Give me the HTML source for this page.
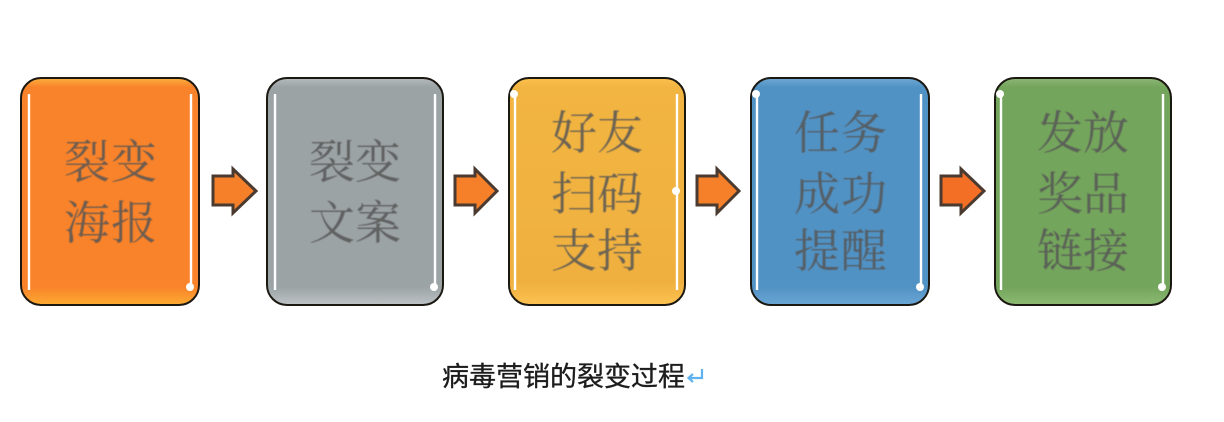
<!DOCTYPE html>
<html lang="zh">
<head>
<meta charset="utf-8">
<style>
html,body{margin:0;padding:0;background:#fff;width:1224px;height:422px;overflow:hidden}
svg{display:block}
.t{font-family:"Liberation Serif","Noto Serif CJK SC",serif;font-size:46px;fill:#555;fill-opacity:.85;text-anchor:middle;filter:url(#soft)}
.c{font-family:"Liberation Sans","Noto Sans CJK SC",sans-serif;font-size:27px;fill:#1c1c1c;stroke:#1c1c1c;stroke-width:.35}
.hl{stroke:#fff;stroke-width:2.4;fill:none}
.box{stroke:#1b1711;stroke-width:2}
.ar{fill:#f58029;stroke:#4a3a30;stroke-width:3;stroke-linejoin:miter}
</style>
</head>
<body>
<svg width="1224" height="422" viewBox="0 0 1224 422" xmlns="http://www.w3.org/2000/svg">
<defs>
<filter id="soft" x="-5%" y="-5%" width="110%" height="110%"><feGaussianBlur stdDeviation="0.5"/></filter>
<linearGradient id="g1" x1="0" y1="0" x2="0" y2="1"><stop offset="0" stop-color="#fbb040"/><stop offset=".04" stop-color="#f9832a"/><stop offset=".92" stop-color="#f9832a"/><stop offset="1" stop-color="#fdab32"/></linearGradient>
<linearGradient id="g2" x1="0" y1="0" x2="0" y2="1"><stop offset="0" stop-color="#b5bbbe"/><stop offset=".04" stop-color="#9ca3a5"/><stop offset=".92" stop-color="#9ca3a5"/><stop offset="1" stop-color="#bcc2c5"/></linearGradient>
<linearGradient id="g3" x1="0" y1="0" x2="0" y2="1"><stop offset="0" stop-color="#fcc04e"/><stop offset=".04" stop-color="#f3b541"/><stop offset=".9" stop-color="#efb03f"/><stop offset="1" stop-color="#fcc251"/></linearGradient>
<linearGradient id="g4" x1="0" y1="0" x2="0" y2="1"><stop offset="0" stop-color="#6fa8d3"/><stop offset=".04" stop-color="#5192c4"/><stop offset=".92" stop-color="#5192c4"/><stop offset="1" stop-color="#6aa6d4"/></linearGradient>
<linearGradient id="g5" x1="0" y1="0" x2="0" y2="1"><stop offset="0" stop-color="#8db676"/><stop offset=".04" stop-color="#74a55c"/><stop offset=".92" stop-color="#74a55c"/><stop offset="1" stop-color="#8cba72"/></linearGradient>
</defs>

<!-- box 1 -->
<rect class="box" x="21" y="78" width="178" height="227" rx="20" fill="url(#g1)"/>
<path class="hl" d="M29 94V290M191 94V286"/>
<circle cx="190" cy="287" r="4" fill="#fff"/>
<text class="t" x="87" y="178">裂</text><text class="t" x="134" y="178">变</text>
<text class="t" x="87" y="239">海</text><text class="t" x="134" y="239">报</text>

<!-- box 2 -->
<rect class="box" x="267" y="78" width="176" height="227" rx="20" fill="url(#g2)"/>
<path class="hl" d="M275 94V290M435 94V286"/>
<circle cx="434" cy="287" r="4" fill="#fff"/>
<text class="t" x="332" y="178">裂</text><text class="t" x="378" y="178">变</text>
<text class="t" x="332" y="239">文</text><text class="t" x="378" y="239">案</text>

<!-- box 3 -->
<rect class="box" x="509" y="78" width="176" height="227" rx="20" fill="url(#g3)"/>
<path class="hl" d="M515 94V290M677 94V290"/>
<circle cx="514" cy="94" r="4" fill="#fff"/><circle cx="676" cy="191" r="4" fill="#fff"/>
<text class="t" x="574" y="149">好</text><text class="t" x="620" y="149">友</text>
<text class="t" x="574" y="210">扫</text><text class="t" x="620" y="210">码</text>
<text class="t" x="574" y="267">支</text><text class="t" x="620" y="267">持</text>

<!-- box 4 -->
<rect class="box" x="751" y="78" width="178" height="227" rx="20" fill="url(#g4)"/>
<path class="hl" d="M757 94V290M921 94V286"/>
<circle cx="756" cy="94" r="4" fill="#fff"/><circle cx="920" cy="287" r="4" fill="#fff"/>
<text class="t" x="817" y="149">任</text><text class="t" x="864" y="149">务</text>
<text class="t" x="817" y="210">成</text><text class="t" x="864" y="210">功</text>
<text class="t" x="817" y="267">提</text><text class="t" x="864" y="267">醒</text>

<!-- box 5 -->
<rect class="box" x="995" y="78" width="176" height="227" rx="20" fill="url(#g5)"/>
<path class="hl" d="M1001 94V290M1163 94V286"/>
<circle cx="1000" cy="94" r="4" fill="#fff"/><circle cx="1162" cy="287" r="4" fill="#fff"/>
<text class="t" x="1060" y="149">发</text><text class="t" x="1106" y="149">放</text>
<text class="t" x="1060" y="210">奖</text><text class="t" x="1106" y="210">品</text>
<text class="t" x="1060" y="267">链</text><text class="t" x="1106" y="267">接</text>

<!-- arrows -->
<path class="ar" d="M213 176H233V169L256 191L233 213V205H213Z"/>
<path class="ar" d="M455 176H475V169L497 191L475 213V205H455Z"/>
<path class="ar" d="M697 176H717V169L739 191L717 213V205H697Z"/>
<path class="ar" style="fill:#f36f26" d="M941 176H961V169L984 191L961 213V205H941Z"/>

<!-- caption -->
<text class="c" x="442" y="386">病毒营销的裂变过程</text>
<path d="M702 369V378H689M693 374L688.500 378L693 382" fill="none" stroke="#5fb2ee" stroke-width="2.200"/>
</svg>
</body>
</html>
